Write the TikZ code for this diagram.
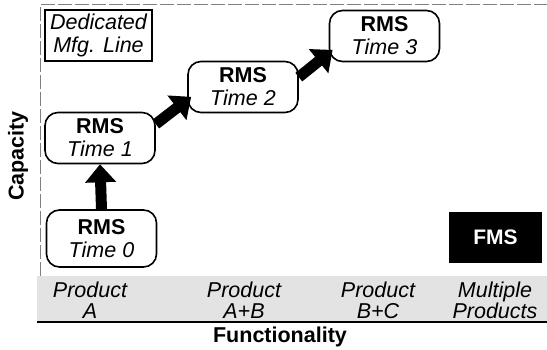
\documentclass[tikz,border=0pt]{standalone}
\usepackage{fontspec}
\setmainfont{Liberation Sans}
\usetikzlibrary{arrows.meta}
\begin{document}
\begin{tikzpicture}[x=1pt,y=-1pt,
  rms/.style={draw, line width=1.6pt, rounded corners=13pt, align=center,
    font=\fontsize{21.5}{23}\selectfont, inner sep=0pt, minimum width=110pt, minimum height=51pt},
  ded/.style={draw, line width=1.6pt, align=center, inner sep=0pt,
    font=\fontsize{21.5}{23}\selectfont\itshape, minimum width=107pt, minimum height=51pt},
  fms/.style={fill=black, text=white, inner sep=0pt, font=\fontsize{21}{22}\selectfont\bfseries,
    minimum width=93pt, minimum height=51pt},
  prod/.style={align=center, font=\fontsize{21.5}{21}\selectfont\itshape, inner sep=0pt},
  axlab/.style={font=\fontsize{21.5}{22}\selectfont\bfseries, inner sep=0pt},
  bigarrow/.style={line width=11pt, -{Triangle[width=30pt,length=18pt]}},
  frame/.style={gray, line width=1pt, dash pattern=on 14pt off 3pt}
]
\useasboundingbox (0,0) rectangle (547,350);
% band
\fill[gray!22] (37,276) rectangle (547,322);
\draw[line width=1.3pt] (37,322) -- (547,322);
% frame
\draw[frame] (40,276) -- (40,5) -- (547,5);
% nodes
\node[ded] (ded) at (98.5,35.5) {Dedicated\\Mfg. Line};
\node[rms, minimum height=57pt] (t0) at (101.5,238.5) {\textbf{RMS}\\\textit{Time 0}};
\node[rms] (t1) at (100,138) {\textbf{RMS}\\\textit{Time 1}};
\node[rms] (t2) at (243,87) {\textbf{RMS}\\\textit{Time 2}};
\node[rms] (t3) at (384.5,36) {\textbf{RMS}\\\textit{Time 3}};
\node[fms] (fms) at (495.5,237.5) {FMS};
% arrows
\draw[bigarrow] (t0.north) -- (t1.south);
\draw[bigarrow, shorten >=-5pt] (t1.14) -- (t2.193);
\draw[bigarrow, shorten >=-5pt] (t2.10) -- (t3.197);
% product labels
\node[prod] (pa) at (90,300) {Product\\A};
\node[prod] (pab) at (244,300) {Product\\A+B};
\node[prod] (pbc) at (378,300) {Product\\B+C};
\node[prod] (pm) at (495,300) {Multiple\\Products};
% axis labels
\node[axlab] (fx) at (280,337) {Functionality};
\node[axlab, rotate=90] (cy) at (18,156) {Capacity};
\end{tikzpicture}
\end{document}
